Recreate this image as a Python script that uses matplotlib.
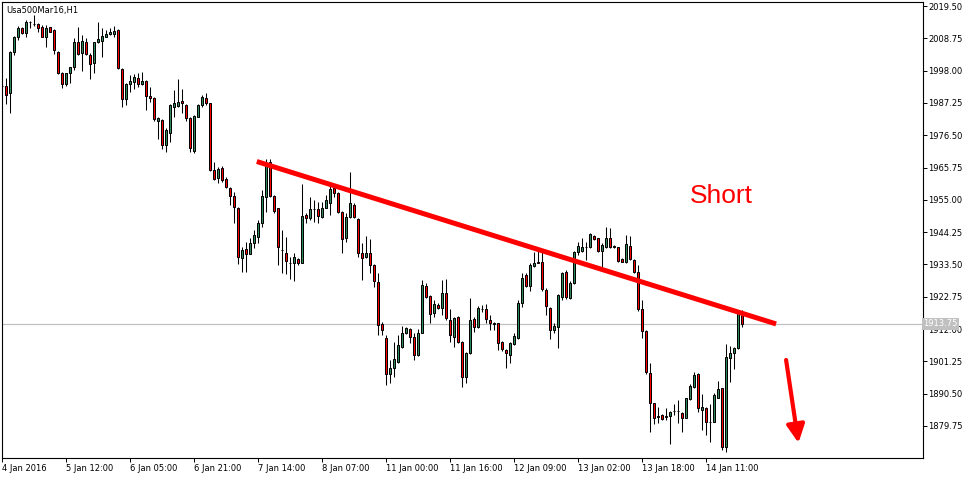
import matplotlib
matplotlib.use("Agg")
import matplotlib.pyplot as plt
from matplotlib.transforms import blended_transform_factory

plt.rcParams['font.family'] = ['DejaVu Sans']

title = "Usa500Mar16,H1"

opens = [
1992.8, 1992.9, 1990.4, 2004.3, 2009.1, 2012.1, 2010.6, 2014.3, 2013.5, 2013.4,
2012.4, 2009.3, 2012.4, 2011.5, 2004.3, 1997.3, 1993.5, 1997.1, 1999.1, 2007.4,
2003.8, 2007.4, 2003.2, 2000.4, 2007.4, 2008.0, 2009.3, 2010.2, 2010.2, 2011.5,
1998.5, 1988.4, 1993.5, 1994.3, 1995.6, 1993.5, 1994.5, 1989.5, 1988.8, 1981.3,
1981.5, 1973.4, 1977.3, 1985.8, 1986.3, 1987.9, 1986.5, 1982.1, 1971.4, 1982.4,
1986.6, 1988.8, 1987.1, 1964.9, 1962.1, 1965.5, 1961.9, 1958.8, 1956.3, 1952.2,
1935.5, 1938.5, 1937.0, 1940.5, 1942.7, 1947.2, 1955.8, 1967.5, 1956.3, 1952.2,
1938.3, 1937.4, 1934.1, 1933.9, 1935.2, 1934.1, 1949.9, 1948.8, 1951.8, 1951.8,
1949.2, 1952.2, 1954.0, 1958.8, 1957.4, 1951.1, 1942.2, 1949.2, 1953.3, 1948.5,
1937.4, 1935.9, 1937.4, 1933.3, 1927.8, 1913.7, 1908.9, 1896.9, 1898.9, 1901.1,
1905.9, 1910.6, 1911.9, 1909.5, 1903.4, 1910.8, 1926.3, 1923.0, 1917.5, 1920.0,
1918.9, 1924.1, 1915.0, 1909.2, 1915.9, 1907.8, 1895.9, 1903.9, 1915.2, 1912.6,
1918.6, 1918.6, 1915.0, 1913.9, 1913.9, 1907.8, 1905.0, 1903.4, 1907.0, 1908.9,
1920.8, 1930.0, 1926.3, 1933.1, 1934.2, 1934.4, 1925.0, 1918.9, 1911.7, 1912.8,
1922.5, 1930.9, 1922.2, 1927.2, 1937.5, 1938.0, 1939.2, 1939.2, 1943.1, 1942.2,
1938.1, 1939.2, 1942.4, 1939.4, 1939.2, 1935.3, 1934.4, 1939.7, 1935.0, 1931.1,
1918.6, 1911.4, 1897.3, 1887.3, 1882.9, 1883.4, 1882.9, 1883.2, 1884.6, 1884.7,
1884.0, 1882.5, 1888.6, 1892.8, 1896.9, 1885.1, 1885.8, 1881.0, 1881.2, 1889.2,
1892.3, 1872.9, 1902.5, 1904.0, 1905.6, 1916.7]

highs = [
1993.5, 1995.4, 2004.6, 2009.5, 2012.9, 2012.6, 2014.9, 2014.4, 2016.5, 2013.8,
2013.2, 2013.2, 2012.6, 2011.8, 2004.6, 1997.5, 1997.3, 1999.3, 2008.8, 2012.6,
2009.9, 2008.8, 2003.8, 2007.6, 2014.1, 2012.1, 2011.5, 2012.1, 2012.9, 2011.8,
1998.8, 1994.0, 1996.5, 1996.9, 1997.1, 1997.7, 1994.9, 1992.6, 1989.1, 1982.6,
1981.8, 1978.8, 1986.8, 1991.5, 1995.1, 1992.0, 1986.8, 1982.4, 1983.2, 1986.9,
1989.9, 1990.4, 1987.3, 1967.7, 1965.8, 1966.2, 1962.5, 1959.2, 1957.7, 1952.7,
1939.4, 1941.1, 1942.2, 1945.0, 1948.3, 1958.3, 1968.5, 1968.5, 1956.6, 1952.4,
1945.0, 1942.7, 1936.1, 1937.2, 1935.5, 1960.3, 1950.5, 1955.8, 1954.9, 1954.4,
1954.4, 1956.6, 1959.6, 1959.6, 1957.7, 1951.3, 1950.7, 1964.4, 1953.8, 1948.8,
1940.7, 1943.0, 1941.9, 1933.6, 1930.5, 1914.5, 1910.0, 1901.7, 1907.8, 1910.0,
1913.0, 1912.8, 1912.2, 1910.6, 1911.9, 1928.3, 1927.4, 1923.3, 1921.7, 1920.6,
1928.3, 1928.5, 1918.6, 1916.1, 1916.4, 1908.1, 1904.5, 1922.2, 1916.1, 1919.7,
1920.0, 1920.4, 1916.7, 1914.5, 1914.1, 1908.1, 1905.3, 1907.8, 1910.6, 1921.7,
1930.5, 1930.5, 1933.9, 1937.8, 1938.9, 1937.8, 1925.6, 1919.2, 1913.9, 1923.7,
1931.1, 1931.6, 1928.0, 1938.0, 1940.9, 1942.4, 1941.1, 1943.9, 1943.3, 1942.4,
1940.5, 1946.1, 1945.5, 1940.0, 1939.4, 1935.8, 1943.3, 1943.1, 1935.3, 1933.3,
1921.7, 1911.7, 1900.6, 1887.5, 1886.2, 1883.6, 1885.8, 1884.7, 1886.9, 1888.4,
1884.3, 1889.2, 1893.6, 1897.6, 1897.3, 1890.3, 1886.2, 1886.9, 1890.6, 1894.7,
1892.5, 1906.9, 1906.5, 1906.1, 1918.3, 1918.3]

lows = [
1992.3, 1986.9, 1984.0, 2003.2, 2008.2, 2010.2, 2009.3, 2012.1, 2012.9, 2011.0,
2009.3, 2006.0, 2011.0, 2003.4, 1996.9, 1992.1, 1992.9, 1994.0, 1998.2, 2003.2,
1998.0, 2003.2, 1995.1, 1997.3, 2007.1, 2002.4, 2009.1, 2009.9, 2009.1, 1998.5,
1986.0, 1986.5, 1991.0, 1991.8, 1992.6, 1993.2, 1984.8, 1987.6, 1981.3, 1975.4,
1971.8, 1971.0, 1974.3, 1982.5, 1986.0, 1984.0, 1981.2, 1971.0, 1970.5, 1982.4,
1986.0, 1986.6, 1964.7, 1961.6, 1960.7, 1961.0, 1958.8, 1953.3, 1947.2, 1933.5,
1931.1, 1931.1, 1937.0, 1938.9, 1940.5, 1946.1, 1951.1, 1955.8, 1950.7, 1933.3,
1930.5, 1930.3, 1928.5, 1928.1, 1933.3, 1933.9, 1947.4, 1948.3, 1947.7, 1947.2,
1948.8, 1952.2, 1950.0, 1956.0, 1950.7, 1937.4, 1941.1, 1948.8, 1948.8, 1936.1,
1928.3, 1935.5, 1930.5, 1926.1, 1910.0, 1910.0, 1893.4, 1893.9, 1896.2, 1900.8,
1905.6, 1910.4, 1907.2, 1901.7, 1903.0, 1910.6, 1922.2, 1913.9, 1916.1, 1918.6,
1916.7, 1915.0, 1907.8, 1906.1, 1907.5, 1892.8, 1893.9, 1903.7, 1911.1, 1912.2,
1917.8, 1913.9, 1911.7, 1911.7, 1905.0, 1904.8, 1898.9, 1900.6, 1906.7, 1908.6,
1919.2, 1926.1, 1924.8, 1932.8, 1933.9, 1924.8, 1916.7, 1908.6, 1910.6, 1905.8,
1921.7, 1922.0, 1922.0, 1926.9, 1936.5, 1937.7, 1935.0, 1939.1, 1941.6, 1937.7,
1932.4, 1938.9, 1938.9, 1938.9, 1934.4, 1934.2, 1933.9, 1935.0, 1930.5, 1918.0,
1909.0, 1896.9, 1877.6, 1880.3, 1880.6, 1881.7, 1881.7, 1873.9, 1883.4, 1880.6,
1877.8, 1882.3, 1888.4, 1892.5, 1884.5, 1878.4, 1876.7, 1874.5, 1880.9, 1889.0,
1871.7, 1871.0, 1894.5, 1898.7, 1905.4, 1912.8]

closes = [
1993.0, 1989.9, 2004.3, 2009.1, 2012.1, 2010.6, 2014.3, 2014.2, 2013.4, 2012.1,
2009.3, 2012.1, 2011.0, 2004.9, 1997.3, 1993.5, 1997.1, 1999.1, 2007.4, 2003.5,
2007.9, 2003.4, 2000.2, 2007.4, 2008.4, 2009.5, 2010.2, 2010.9, 2011.1, 1998.8,
1988.4, 1993.5, 1994.5, 1995.8, 1993.5, 1994.5, 1989.5, 1988.8, 1981.8, 1982.1,
1973.4, 1978.2, 1986.5, 1987.1, 1987.4, 1987.1, 1982.1, 1972.1, 1982.9, 1986.6,
1989.3, 1987.3, 1964.9, 1961.8, 1965.1, 1961.6, 1959.2, 1956.4, 1952.7, 1936.1,
1938.3, 1937.0, 1940.7, 1943.3, 1947.2, 1956.3, 1966.6, 1956.3, 1951.4, 1939.2,
1938.2, 1934.7, 1934.0, 1935.9, 1934.1, 1949.6, 1948.8, 1951.8, 1951.9, 1949.6,
1952.2, 1954.9, 1958.5, 1957.4, 1951.1, 1941.9, 1949.4, 1953.8, 1949.2, 1937.2,
1935.5, 1937.2, 1933.3, 1928.1, 1913.5, 1911.8, 1896.9, 1898.9, 1901.9, 1906.7,
1910.6, 1912.2, 1909.2, 1903.2, 1910.8, 1926.7, 1922.6, 1917.0, 1920.4, 1918.9,
1924.1, 1915.6, 1910.0, 1915.6, 1907.8, 1895.9, 1904.1, 1915.0, 1912.6, 1918.9,
1918.8, 1915.2, 1913.9, 1913.8, 1907.2, 1905.3, 1903.9, 1907.5, 1909.7, 1920.8,
1928.9, 1926.3, 1933.3, 1934.1, 1934.1, 1925.2, 1919.7, 1911.7, 1913.0, 1923.3,
1930.5, 1922.8, 1927.2, 1937.5, 1939.7, 1939.4, 1939.3, 1943.5, 1941.9, 1938.1,
1939.9, 1942.2, 1939.2, 1939.5, 1934.8, 1934.4, 1940.2, 1935.2, 1930.9, 1918.7,
1911.4, 1897.8, 1887.3, 1882.3, 1882.8, 1882.1, 1882.8, 1884.5, 1884.7, 1884.6,
1882.3, 1888.9, 1893.2, 1896.7, 1885.6, 1886.2, 1880.9, 1880.9, 1890.1, 1892.0,
1872.9, 1902.8, 1904.0, 1905.6, 1917.8, 1913.75]

date_tick_bars = [0, 16, 32, 48, 64, 80, 96, 112, 128, 144, 160, 176]
date_tick_labels = ['4 Jan 2016', '5 Jan 12:00', '6 Jan 05:00', '6 Jan 21:00',
                    '7 Jan 14:00', '8 Jan 07:00', '11 Jan 00:00', '11 Jan 16:00',
                    '12 Jan 09:00', '13 Jan 02:00', '13 Jan 18:00', '14 Jan 11:00']
price_ticks = [1879.75, 1890.50, 1901.25, 1912.00, 1922.75, 1933.50, 1944.25,
               1955.00, 1965.75, 1976.50, 1987.25, 1998.00, 2008.75, 2019.50]
bid_price = 1913.75

# annotation objects (bar index, price)
trend_x = [63.6, 193.4]
trend_y = [1967.75, 1913.7]
arrow_start = (195.9, 1901.7)
arrow_tip = (199.0, 1874.1)
short_pos = (171.9, 1956.3)

n = min(len(opens), len(highs), len(lows), len(closes))
xs = list(range(n))
bottoms = [min(opens[i], closes[i]) for i in xs]
heights = [max(abs(closes[i] - opens[i]), 0.08) for i in xs]
colors = ['#2E8B57' if closes[i] > opens[i] else '#FF0000' for i in xs]

fig = plt.figure(figsize=(9.75, 4.79), dpi=100)
ax = fig.add_axes([2 / 975, 21 / 479, 920.5 / 975, 456.5 / 479])
ax.set_xlim(-0.1, 230.0)
ax.set_ylim(1869.08, 2021.0)

ax.axhline(bid_price, color='#C0C0C0', lw=0.9, zorder=0.5)
ax.vlines(xs, [lows[i] for i in xs], [highs[i] for i in xs], color='black', lw=0.75, zorder=1)
ax.bar(xs, heights, bottom=bottoms, width=0.5, color=colors, edgecolor='black',
       linewidth=0.72, zorder=2)

ax.plot(trend_x, trend_y, color='#FF0000', lw=3.6, solid_capstyle='butt', zorder=4)
ax.annotate('', xy=arrow_tip, xytext=arrow_start,
            arrowprops=dict(arrowstyle='-|>,head_length=0.9,head_width=0.45',
                            color='#FF0000', lw=3, mutation_scale=12,
                            shrinkA=0, shrinkB=0), zorder=4)
ax.text(short_pos[0], short_pos[1], 'Short', color='#FF0000', fontsize=19,
        family=['Liberation Sans', 'DejaVu Sans'], ha='left', va='center', zorder=4)

for s in ax.spines.values():
    s.set_linewidth(0.8)
    s.set_color('black')

ax.yaxis.tick_right()
ax.set_yticks(price_ticks)
ax.set_yticklabels(['%.2f' % p for p in price_ticks])
ax.set_xticks(date_tick_bars)
ax.set_xticklabels(date_tick_labels)
ax.tick_params(axis='y', direction='out', length=3, width=0.7, labelsize=6, pad=1)
ax.tick_params(axis='x', direction='out', length=3, width=0.7, labelsize=6, pad=1)
for lab in ax.get_xticklabels():
    lab.set_horizontalalignment('left')

trans = blended_transform_factory(ax.transAxes, ax.transData)
ax.text(1.001, bid_price, '%.2f' % bid_price, transform=trans, ha='left', va='center',
        color='white', fontsize=6, clip_on=False, zorder=10,
        bbox=dict(boxstyle='square,pad=0.2', fc='#C0C0C0', ec='none'))

fig.text(6 / 975, 1 - 10 / 479, title, fontsize=6, ha='left', va='center', color='black')

fig.savefig('out.png', dpi=100)
